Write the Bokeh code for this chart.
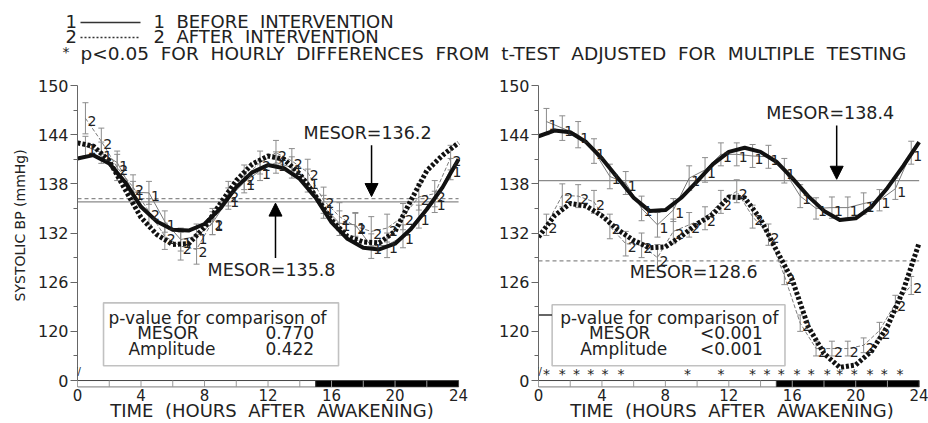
from bokeh.plotting import figure
from bokeh.layouts import column, row
from bokeh.models import (Range1d, FixedTicker, BoxAnnotation, Label, Arrow,
                          NormalHead)
from bokeh.core.properties import value
from bokeh.embed import file_html
from bokeh.resources import INLINE

FONT = "DejaVu Sans"
NB = "\u00a0"

# ---------------- data ----------------
FIT_HOURS = [0, 1, 2, 3, 4, 5, 6, 7, 8, 9, 10, 11, 12, 13, 14, 15, 16, 17, 18,
             19, 20, 21, 22, 23, 24]
OBS_HOURS = [0.5, 1.5, 2.5, 3.5, 4.5, 5.5, 6.5, 7.5, 8.5, 9.5, 10.5, 11.5,
             12.5, 13.5, 14.5, 15.5, 16.5, 17.5, 18.5, 19.5, 20.5, 21.5, 22.5, 23.5]

Y_TICKS = [114, 120, 126, 132, 138, 144, 150]
Y_TICK_LABELS = ["0", "120", "126", "132", "138", "144", "150"]
Y_MINOR = [117, 123, 129, 135, 141, 147]
X_TICKS = [0, 4, 8, 12, 16, 20, 24]
BAR_TICKS = [2, 4, 6, 8, 10, 12, 14, 16, 18, 20, 22]
LIGHT_DARK_START = [0, 15]
LIGHT_DARK_END = [15, 24]
LIGHT_DARK_COLORS = ["white", "black"]

# left panel
L_FIT_BEFORE = [141.1, 141.5, 140.5, 138.2, 135.2, 133.4, 132.4, 132.3, 133.1, 135.0,
                137.6, 139.4, 140.3, 139.9, 138.6, 136.3, 133.3, 131.3, 130.2, 130.0,
                130.7, 132.5, 134.9, 137.6, 141.0]
L_FIT_AFTER = [143.0, 142.6, 140.8, 137.3, 133.9, 131.8, 130.6, 130.7, 132.7, 135.6,
               138.4, 140.4, 141.4, 141.0, 139.2, 136.5, 133.6, 131.6, 130.9, 130.8,
               132.2, 136.0, 139.6, 141.5, 143.0]
L_OBS_BEFORE = [142.6, 141.8, 140.6, 137.0, 136.9, 133.4, 131.2, 131.6, 133.2, 136.2,
                138.2, 139.6, 140.6, 140.0, 138.4, 135.2, 133.2, 133.0, 130.4, 130.5,
                131.6, 134.0, 135.8, 139.8]
L_SE_BEFORE = [1.2, 1.3, 1.4, 1.3, 1.4, 1.3, 1.4, 1.5, 1.4, 1.3, 1.3, 1.2,
               1.3, 1.3, 1.4, 1.4, 1.5, 1.4, 1.5, 1.5, 1.4, 1.4, 1.3, 1.3]
L_OBS_AFTER = [146.0, 143.2, 140.0, 137.6, 134.6, 131.6, 130.4, 130.0, 133.4, 136.8,
               138.8, 140.6, 141.8, 140.8, 139.4, 136.0, 134.0, 132.8, 132.2, 132.6,
               134.0, 136.4, 136.8, 141.2]
L_SE_AFTER = [1.9, 1.6, 1.6, 1.5, 1.6, 1.6, 1.7, 1.8, 1.6, 1.5, 1.5, 1.4,
              1.5, 1.5, 1.6, 1.6, 1.7, 1.7, 1.8, 1.7, 1.6, 1.6, 1.6, 1.5]
L_MESOR_BEFORE = 135.8
L_MESOR_AFTER = 136.2
L_P_MESOR = "0.770"
L_P_AMP = "0.422"

# right panel
R_FIT_BEFORE = [143.8, 144.5, 144.3, 143.1, 141.1, 138.7, 136.3, 134.7, 134.8, 136.3,
                138.3, 140.4, 141.9, 142.4, 141.9, 140.7, 138.7, 136.5, 134.7, 133.6,
                133.8, 135.2, 137.5, 140.2, 143.1]
R_FIT_AFTER = [131.5, 134.1, 135.6, 135.3, 134.1, 132.4, 131.1, 130.2, 130.3, 131.6,
               133.1, 134.3, 136.4, 136.3, 133.7, 129.9, 126.3, 120.6, 117.3, 115.6,
               115.9, 117.6, 120.6, 125.0, 130.8]
R_OBS_BEFORE = [145.6, 144.8, 144.0, 142.0, 138.9, 138.1, 135.0, 133.0, 134.8, 138.7,
                139.7, 141.6, 141.6, 141.4, 141.3, 139.6, 136.5, 135.0, 135.1, 135.1,
                135.6, 136.0, 137.4, 141.8]
R_SE_BEFORE = [1.6, 1.5, 1.6, 1.5, 1.5, 1.4, 1.5, 1.5, 1.4, 1.5, 1.5, 1.4,
               1.4, 1.4, 1.4, 1.5, 1.4, 1.3, 1.3, 1.3, 1.3, 1.3, 1.3, 1.4]
R_OBS_AFTER = [133.0, 136.6, 136.5, 135.8, 132.8, 130.7, 130.5, 129.0, 132.2, 133.0,
               133.8, 135.8, 137.1, 134.0, 131.8, 126.8, 121.0, 117.9, 117.9, 117.9,
               118.3, 120.1, 123.4, 125.6]
R_SE_AFTER = [1.3, 1.4, 1.4, 1.4, 1.5, 1.5, 1.5, 1.6, 1.5, 1.5, 1.4, 1.4,
              1.4, 1.4, 1.3, 1.1, 1.0, 0.9, 0.9, 0.9, 0.9, 1.0, 1.0, 1.1]
R_MESOR_BEFORE = 138.4
R_MESOR_AFTER = 128.6
R_P_MESOR = "<0.001"
R_P_AMP = "<0.001"
R_SIG_HOURS = [0.5, 1.5, 2.4, 3.3, 4.2, 5.2, 9.4, 11.5, 13.5, 14.4, 15.3, 16.3,
               17.2, 18.2, 19.0, 19.9, 20.9, 21.8, 22.8]

TXT = "#222222"


def lab(p, x, y, text, size, align="left", baseline="middle", **kw):
    p.add_layout(Label(x=x, y=y, text=text, text_font=FONT, text_font_size=size,
                       text_align=align, text_baseline=baseline, text_color=TXT, **kw))


def make_panel(width, border_left, border_right, x_end, fit_b, fit_a, obs_b, se_b,
               obs_a, se_a, mesor_b, mesor_a, ylabel):
    p = figure(width=width, height=359, x_range=Range1d(0, x_end),
               y_range=Range1d(113.15, 150), output_backend="svg",
               toolbar_location=None, min_border_left=border_left,
               min_border_right=border_right, min_border_top=21, min_border_bottom=35)
    p.grid.visible = False
    p.outline_line_color = None
    p.background_fill_color = "white"

    # y axis
    ya = p.yaxis[0]
    ya.ticker = FixedTicker(ticks=Y_TICKS, minor_ticks=Y_MINOR)
    ya.major_label_overrides = {t: s for t, s in zip(Y_TICKS, Y_TICK_LABELS)}
    ya.bounds = (114, 150)
    ya.major_tick_out = 7
    ya.major_tick_in = 0
    ya.minor_tick_out = 4
    ya.minor_tick_in = 0
    ya.axis_line_color = "#666666"
    ya.major_tick_line_color = "#666666"
    ya.minor_tick_line_color = "#666666"
    ya.major_label_text_font = FONT
    ya.major_label_text_font_size = "16px"
    ya.major_label_text_color = TXT
    ya.major_label_standoff = 2
    if ylabel:
        ya.axis_label = NB * 5 + ylabel
        ya.axis_label_text_font = FONT
        ya.axis_label_text_font_size = "14px"
        ya.axis_label_text_font_style = "normal"
        ya.axis_label_text_color = TXT
        ya.axis_label_standoff = 7

    # x axis (labels + title; the light/dark bar is drawn as quads)
    xa = p.xaxis[0]
    xa.ticker = FixedTicker(ticks=X_TICKS)
    xa.major_tick_out = 0
    xa.major_tick_in = 0
    xa.minor_tick_out = 0
    xa.minor_tick_in = 0
    xa.axis_line_color = None
    xa.major_label_text_font = FONT
    xa.major_label_text_font_size = "15px"
    xa.major_label_text_color = TXT
    xa.major_label_standoff = 1
    xa.axis_label = "TIME" + NB + " (HOURS" + NB + " AFTER" + NB + " AWAKENING)"
    xa.axis_label_text_font = FONT
    xa.axis_label_text_font_size = "18px"
    xa.axis_label_text_font_style = "normal"
    xa.axis_label_text_color = TXT
    xa.axis_label_standoff = -4

    # light/dark bar
    p.quad(left=LIGHT_DARK_START, right=LIGHT_DARK_END, bottom=113.2, top=114,
           fill_color=LIGHT_DARK_COLORS, line_color="#444444", line_width=1)
    p.segment(x0=BAR_TICKS, y0=113.2, x1=BAR_TICKS, y1=114, line_color="#999999",
              line_width=1)

    # MESOR lines
    p.segment(x0=[0], y0=[mesor_b], x1=[24], y1=[mesor_b], line_color="#8a8a8a",
              line_width=1.3)
    p.segment(x0=[0], y0=[mesor_a], x1=[24], y1=[mesor_a], line_color="#8a8a8a",
              line_width=1.3, line_dash="4 3")

    # observed means with error bars
    for obs, se, dash in ((obs_b, se_b, "solid"), (obs_a, se_a, "4 2")):
        lo = [m - s for m, s in zip(obs, se)]
        hi = [m + s for m, s in zip(obs, se)]
        p.segment(x0=OBS_HOURS, y0=lo, x1=OBS_HOURS, y1=hi, line_color="#8c8c8c",
                  line_width=1)
        p.scatter(OBS_HOURS, hi, marker="dash", size=6, line_color="#8c8c8c")
        p.scatter(OBS_HOURS, lo, marker="dash", size=6, line_color="#8c8c8c")
        p.line(OBS_HOURS, obs, line_color="#7a7a7a", line_width=1, line_dash=dash)

    # fitted curves
    p.line(FIT_HOURS, fit_b, line_color="#111111", line_width=4, line_join="round")
    p.line(FIT_HOURS, fit_a, line_color="#111111", line_width=5, line_dash="3 2",
           line_join="round")

    # labels of the observed means
    for obs, t in ((obs_b, "1"), (obs_a, "2")):
        p.text(OBS_HOURS, obs, text=value(t), text_font=value(FONT),
               text_font_size="14px", text_align="left", text_baseline="middle",
               text_color=TXT, x_offset=2, y_offset=3)

    # axis break mark
    lab(p, 0, 115.1, "//", "10px", align="center")
    return p


def pbox(p, left, right, top, bottom, x_txt, x_lab2, x_val, p1, p2):
    p.add_layout(BoxAnnotation(left=left, right=right, top=top, bottom=bottom,
                               fill_color="white", fill_alpha=1.0,
                               line_color="#333333", line_width=1.6))
    lab(p, x_txt, 121.65, "p-value for comparison of", "17px")
    lab(p, x_lab2 + 0.55, 119.83, "MESOR", "17px")
    lab(p, x_lab2, 117.88, "Amplitude", "17px")
    lab(p, x_val, 119.83, p1, "17px", align="right")
    lab(p, x_val, 117.88, p2, "17px", align="right")


def arrow(p, x, y0, y1):
    p.add_layout(Arrow(end=NormalHead(size=13, fill_color="black", line_color="black"),
                       x_start=x, y_start=y0, x_end=x, y_end=y1,
                       line_color="black", line_width=1.5))


# ---------------- left panel ----------------
left = make_panel(478, 77, 12, 24.5, L_FIT_BEFORE, L_FIT_AFTER, L_OBS_BEFORE,
                  L_SE_BEFORE, L_OBS_AFTER, L_SE_AFTER, L_MESOR_BEFORE,
                  L_MESOR_AFTER, "SYSTOLIC BP (mmHg)")
lab(left, 18.27, 144.16, "MESOR=" + str(L_MESOR_AFTER), "17.5px", align="center")
arrow(left, 18.52, 142.7, 136.45)
lab(left, 12.22, 127.5, "MESOR=" + str(L_MESOR_BEFORE), "17.5px", align="center")
arrow(left, 12.47, 128.95, 135.65)
pbox(left, 1.64, 16.44, 123.48, 115.81, 1.95, 3.21, 14.9, L_P_MESOR, L_P_AMP)

# ---------------- right panel ----------------
right = make_panel(450, 60, 3, 24.4, R_FIT_BEFORE, R_FIT_AFTER, R_OBS_BEFORE,
                   R_SE_BEFORE, R_OBS_AFTER, R_SE_AFTER, R_MESOR_BEFORE,
                   R_MESOR_AFTER, None)
lab(right, 18.39, 146.6, "MESOR=" + str(R_MESOR_BEFORE), "17.5px", align="center")
arrow(right, 18.8, 145.13, 138.56)
lab(right, 9.78, 127.25, "MESOR=" + str(R_MESOR_AFTER), "17.5px", align="center")
right.segment(x0=[0], y0=[122.0], x1=[0.86], y1=[122.0], line_color="#333333",
              line_width=1.5)
pbox(right, 0.86, 15.54, 123.24, 115.81, 1.37, 2.63, 14.15, R_P_MESOR, R_P_AMP)
right.text(R_SIG_HOURS, [114.85] * len(R_SIG_HOURS), text=value("*"),
           text_font=value(FONT), text_font_size="14px", text_align="center",
           text_baseline="middle", text_color=TXT)

# ---------------- header ----------------
hdr = figure(width=928, height=64, x_range=Range1d(0, 928), y_range=Range1d(64, 0),
             output_backend="svg", toolbar_location=None, min_border=0,
             x_axis_location=None, y_axis_location=None)
hdr.grid.visible = False
hdr.outline_line_color = None
lab(hdr, 65, 21.3, "1", "18px")
hdr.line([80, 140], [22, 22], line_color="#333333", line_width=1.3)
lab(hdr, 153, 21.3, "1" + NB + " BEFORE" + NB + " INTERVENTION", "18px")
lab(hdr, 65, 36, "2", "18px")
hdr.line([80, 140], [37, 37], line_color="#333333", line_width=1.3, line_dash="2 2")
lab(hdr, 153, 36, "2" + NB + " AFTER" + NB + " INTERVENTION", "18px")
lab(hdr, 62, 51, "*", "14px")
lab(hdr, 80, 53, "p<0.05" + NB + " FOR" + NB + " HOURLY" + NB + " DIFFERENCES" + NB +
    " FROM" + NB + " t-TEST" + NB + " ADJUSTED" + NB + " FOR" + NB + " MULTIPLE" + NB +
    " TESTING", "18.5px")

layout = column(hdr, row(left, right))
open("out.html", "w").write(file_html(layout, INLINE))
